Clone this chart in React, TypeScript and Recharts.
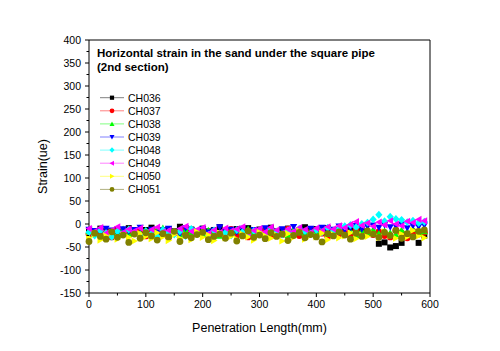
import { ScatterChart, Scatter, XAxis, YAxis, ReferenceLine } from 'recharts'

const X_MM = [0,10,20,30,40,50,60,70,80,90,100,110,120,130,140,150,160,170,180,190,200,210,220,230,240,250,260,270,280,290,300,310,320,330,340,350,360,370,380,390,400,410,420,430,440,450,460,470,480,490,500,510,520,530,540,550,560,570,580,590]

const CH036 = [-14,-18,-10,-16,-21,-12,-17,-9,-15,-20,-13,-8,-18,-14,-11,-19,-6,-15,-12,-20,-10,-16,-13,-7,-18,-14,-11,-17,-9,-15,-12,-19,-8,-16,-13,-10,-18,-14,-7,-15,-11,-17,-9,-13,-16,-12,-8,-18,-14,-20,-22,-43,-40,-51,-48,-41,-24,-20,-41,-25]
const CH037 = [-22,-17,-25,-19,-28,-15,-21,-24,-18,-13,-26,-20,-16,-23,-29,-18,-22,-14,-25,-19,-21,-27,-16,-23,-18,-12,-24,-20,-28,-17,-22,-15,-26,-19,-23,-11,-21,-25,-18,-16,-24,-20,-27,-14,-22,-18,-26,-12,-21,-19,-23,-17,-25,-28,-14,-20,-30,-16,-22,-18]
const CH038 = [-16,-21,-13,-19,-24,-17,-11,-22,-15,-20,-18,-25,-14,-9,-21,-17,-23,-12,-19,-16,-22,-14,-20,-26,-13,-18,-15,-21,-11,-19,-17,-23,-14,-20,-16,-24,-12,-18,-21,-15,-19,-13,-22,-17,-10,-20,-16,-24,-14,-18,-12,-21,-15,-19,-23,-13,-17,-11,-20,-16]
const CH039 = [-12,-15,-18,-10,-14,-20,-11,-16,-13,-8,-17,-12,-19,-14,-10,-15,-21,-9,-13,-16,-11,-18,-14,-7,-15,-12,-17,-10,-19,-13,-16,-9,-14,-18,-11,-15,-6,-13,-17,-10,-14,-8,-16,-12,-5,-13,-9,-4,-11,-6,-3,-8,-2,-7,-5,-1,-9,-4,-6,-3]
const CH048 = [-18,-25,-14,-20,-28,-16,-22,-12,-19,-24,-15,-21,-27,-13,-18,-23,-16,-26,-11,-20,-17,-24,-14,-21,-19,-25,-13,-18,-22,-15,-20,-26,-12,-17,-23,-14,-19,-10,-16,-21,-13,-18,-8,-15,-11,-5,-2,-7,0,3,10,20,6,16,11,9,4,7,2,5]
const CH049 = [-10,-16,-8,-20,-13,-6,-18,-11,-15,-9,-22,-12,-7,-17,-14,-19,-10,-5,-16,-12,-8,-21,-13,-18,-9,-15,-11,-6,-19,-14,-10,-17,-7,-13,-20,-11,-16,-8,-12,-18,-9,-14,-6,-11,-4,-8,-1,5,-3,2,-5,4,-2,7,0,-4,6,3,10,7]
const CH050 = [-30,-22,-35,-26,-18,-33,-24,-29,-37,-21,-27,-32,-19,-28,-36,-23,-31,-25,-34,-17,-29,-24,-36,-20,-30,-27,-33,-22,-28,-35,-18,-26,-31,-24,-37,-21,-29,-15,-33,-25,-28,-20,-34,-23,-30,-26,-19,-32,-24,-27,-21,-29,-17,-25,-31,-22,-28,-14,-26,-30]
const CH051 = [-38,-20,-27,-33,-17,-29,-24,-40,-22,-31,-19,-26,-35,-21,-28,-16,-38,-25,-30,-23,-18,-34,-27,-22,-31,-20,-37,-26,-15,-29,-24,-32,-19,-27,-22,-36,-25,-18,-30,-23,-28,-39,-21,-26,-17,-24,-33,-20,-27,-15,-22,-29,-18,-25,-14,-31,-21,-28,-16,-13]

const X_TICKS = [0,50,100,150,200,250,300,350,400,450,500,550,600]
const Y_TICKS = [-150,-125,-100,-75,-50,-25,0,25,50,75,100,125,150,175,200,225,250,275,300,325,350,375,400]

type MarkerKind = 'square' | 'circle' | 'up' | 'down' | 'diamond' | 'left' | 'right'
const SERIES: { name: string; values: number[]; color: string; line: string; marker: MarkerKind }[] = [
  { name: 'CH036', values: CH036, color: '#000000', line: '#808080', marker: 'square' },
  { name: 'CH037', values: CH037, color: '#ff0000', line: '#ff8080', marker: 'circle' },
  { name: 'CH038', values: CH038, color: '#00ff00', line: '#80ff80', marker: 'up' },
  { name: 'CH039', values: CH039, color: '#0000ff', line: '#8080ff', marker: 'down' },
  { name: 'CH048', values: CH048, color: '#00ffff', line: '#80ffff', marker: 'diamond' },
  { name: 'CH049', values: CH049, color: '#ff00ff', line: '#ff80ff', marker: 'left' },
  { name: 'CH050', values: CH050, color: '#ffff00', line: '#ffff80', marker: 'right' },
  { name: 'CH051', values: CH051, color: '#808000', line: '#b0b080', marker: 'circle' },
]

const FONT = 'Arial, "Liberation Sans", sans-serif'

// k scales the marker (plot markers are a bit bigger than the legend ones)
function marker(kind: MarkerKind, cx: number, cy: number, fill: string, k = 1) {
  const s = 3.6 * k
  switch (kind) {
    case 'square': return <rect x={cx - 3 * k} y={cy - 3 * k} width={6 * k} height={6 * k} fill={fill} />
    case 'circle': return <circle cx={cx} cy={cy} r={3.4 * k} fill={fill} />
    case 'up': return <polygon points={`${cx},${cy - s} ${cx + s},${cy + s * 0.8} ${cx - s},${cy + s * 0.8}`} fill={fill} />
    case 'down': return <polygon points={`${cx},${cy + s} ${cx + s},${cy - s * 0.8} ${cx - s},${cy - s * 0.8}`} fill={fill} />
    case 'diamond': return <polygon points={`${cx},${cy - s * 1.1} ${cx + s},${cy} ${cx},${cy + s * 1.1} ${cx - s},${cy}`} fill={fill} />
    case 'left': return <polygon points={`${cx - s},${cy} ${cx + s * 0.8},${cy - s} ${cx + s * 0.8},${cy + s}`} fill={fill} />
    case 'right': return <polygon points={`${cx + s},${cy} ${cx - s * 0.8},${cy - s} ${cx - s * 0.8},${cy + s}`} fill={fill} />
  }
}

const XTick = (p: any) => {
  const v = p.payload.value
  const major = v % 100 === 0
  return (
    <g>
      <line x1={p.x} x2={p.x} y1={p.y} y2={p.y + (major ? 4 : 2.5)} stroke="#000" />
      {major && <text x={p.x} y={p.y + 8} dy="0.71em" textAnchor="middle" fontSize={10.5} fontFamily={FONT} fill="#000">{v}</text>}
    </g>
  )
}

const YTick = (p: any) => {
  const v = p.payload.value
  const major = v % 50 === 0
  return (
    <g>
      <line x1={p.x} x2={p.x - (major ? 4 : 2.5)} y1={p.y} y2={p.y} stroke="#000" />
      {major && <text x={p.x - 8} y={p.y} dy="0.35em" textAnchor="end" fontSize={10.5} fontFamily={FONT} fill="#000">{v}</text>}
    </g>
  )
}

export default function App() {
  const data = SERIES.map(s => X_MM.map((x, i) => ({ x, y: s.values[i] })))
  return (
    <div style={{ position: 'absolute', left: 0, top: 0, width: 500, height: 351, background: '#fff' }}>
      <ScatterChart width={500} height={351} margin={{ top: 40, right: 70, bottom: 0, left: 29 }}>
        <XAxis dataKey="x" type="number" domain={[0, 600]} ticks={X_TICKS} interval={0} height={58}
          tickSize={0} tickMargin={0} tickLine={false} tick={XTick} axisLine={{ stroke: '#000' }}
          label={{ value: 'Penetration Length(mm)', position: 'insideBottom', offset: 19, fontSize: 12.5, fontFamily: FONT, fill: '#000' }} />
        <YAxis dataKey="y" type="number" domain={[-150, 400]} ticks={Y_TICKS} interval={0} width={60}
          tickSize={0} tickMargin={0} tickLine={false} tick={YTick} axisLine={{ stroke: '#000' }}
          label={{ value: 'Strain(ue)', angle: -90, position: 'insideLeft', offset: 14, fontSize: 12.5, fontFamily: FONT, fill: '#000', style: { textAnchor: 'middle' } }} />
        <ReferenceLine y={400} stroke="#000" />
        <ReferenceLine x={600} stroke="#000" />
        {SERIES.map((s, k) => (
          <Scatter key={s.name} name={s.name} data={data[k]} isAnimationActive={false}
            shape={(p: any) => marker(s.marker, p.cx, p.cy, s.color)} />
        ))}
      </ScatterChart>
      <svg width={500} height={351} style={{ position: 'absolute', left: 0, top: 0, pointerEvents: 'none' }}>
        <text x={97} y={56.5} fontSize={11.5} fontWeight="bold" fontFamily={FONT} fill="#000">Horizontal strain in the sand under the square pipe</text>
        <text x={97} y={70.5} fontSize={11.5} fontWeight="bold" fontFamily={FONT} fill="#000">(2nd section)</text>
        {SERIES.map((s, i) => {
          const cy = 97.7 + i * 13.1
          return (
            <g key={s.name}>
              <line x1={100} x2={124} y1={cy} y2={cy} stroke={s.line} strokeWidth={1} />
              {marker(s.marker, 112, cy, s.color, 0.7)}
              <text x={128} y={cy + 3.8} fontSize={10.5} fontFamily={FONT} fill="#000">{s.name}</text>
            </g>
          )
        })}
      </svg>
    </div>
  )
}
